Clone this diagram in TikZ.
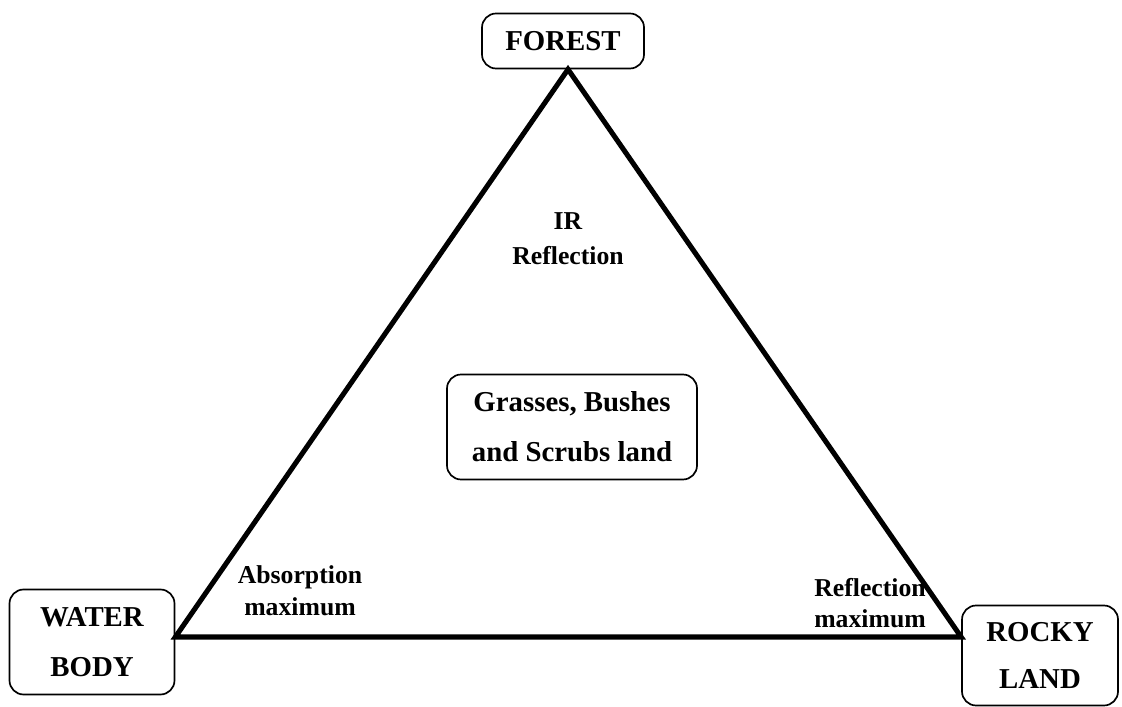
\documentclass[tikz,border=0pt]{standalone}
\usepackage{fontspec}
\setmainfont{Liberation Serif}
\usetikzlibrary{positioning}

\begin{document}
\begin{tikzpicture}[
  x=0.025cm, y=-0.025cm,
  box/.style={rectangle, rounded corners=10, draw, line width=1.2pt, align=center,
              font=\bfseries\fontsize{20.5}{36}\selectfont},
  lbl/.style={align=center, font=\bfseries\fontsize{18.3}{22.7}\selectfont},
  side/.style={line width=3.6pt, line join=miter}
]
  \useasboundingbox (0,0) rectangle (1122,707);

  \node[box, minimum width=162*0.025cm, minimum height=55*0.025cm] (forest) at (563,41) {FOREST};
  \node[box, minimum width=165*0.025cm, minimum height=105*0.025cm] (water) at (92,642) {WATER\\BODY};
  \node[box, minimum width=156*0.025cm, minimum height=100*0.025cm,
        font=\bfseries\fontsize{20.5}{34}\selectfont] (rocky) at (1040,655.5) {ROCKY\\LAND};
  \node[box, minimum width=250*0.025cm, minimum height=105*0.025cm,
        font=\bfseries\fontsize{20.5}{35.5}\selectfont] (grass) at (572,427) {Grasses, Bushes\\and Scrubs land};

  \node[lbl, font=\bfseries\fontsize{18.3}{25}\selectfont] (ir) at (568,239) {IR\\Reflection};
  \node[lbl] (absorb) at (300,591) {Absorption\\maximum};
  \node[lbl, font=\bfseries\fontsize{18.3}{22.5}\selectfont] (reflect) at (870,603) {Reflection\\maximum};

  % triangle corners sit on the boxes
  \coordinate (top) at (forest.south -| 568,0);
  \coordinate (left) at (water.east |- 0,637);
  \coordinate (right) at (rocky.west |- 0,637);

  \draw[side] (top) -- (left) -- (right) -- cycle;
\end{tikzpicture}
\end{document}
